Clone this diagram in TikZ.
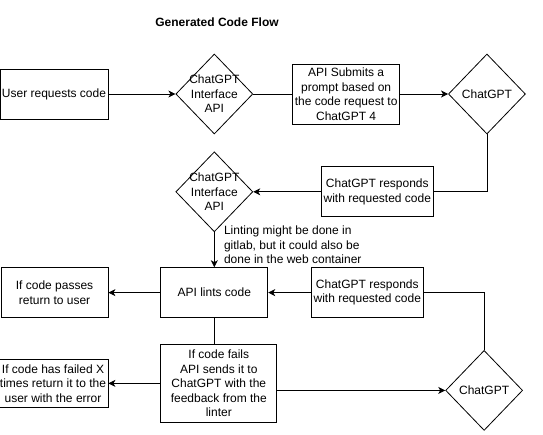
\documentclass[tikz,border=0pt]{standalone}
\usepackage{fontspec}
\setmainfont{Liberation Sans}
\usetikzlibrary{arrows, arrows.meta, shapes}
\usetikzlibrary{positioning}

\begin{document}
\begin{tikzpicture}[x=1pt,y=-1pt,->,>={Stealth[length=7pt,width=7pt,inset=2pt]},line width=0.8pt,font=\fontsize{12}{14.5}\selectfont,
	box node/.style={rectangle,draw,align=center,inner sep=2pt,minimum width=107pt,minimum height=50pt},
	decision node/.style={diamond,draw,align=center,inner sep=-10pt,minimum width=77pt,minimum height=80pt}]
	
	\useasboundingbox (0,0) rectangle (543,434);
	
	% Título
	\node (0) at (217,22) {\bfseries Generated Code Flow};
	
	% Definición de los nodos
	\node[box node] (1) at (54,94) {User requests code};
	\node[decision node] (2) [right=67pt of 1] {ChatGPT\\Interface\\API};
	\node[box node, minimum height=60pt] (3) [right=39pt of 2] {API Submits a\\prompt based on\\the code request to\\ChatGPT 4};
	\node[decision node] (4) [right=48pt of 3] {ChatGPT};
	\node[decision node] (6) [below=17pt of 2] {ChatGPT\\Interface\\API};
	\node[box node] (5) [right=68pt of 6] {ChatGPT responds\\with requested code};
	\node[box node] (7) [below=35pt of 6] {API lints code};
	\node[box node] (8) [left=52pt of 7] {If code passes\\return to user};
	\node[box node] (9) [right=43pt of 7] {ChatGPT responds\\with requested code};
	\node[box node, minimum width=116pt, minimum height=78pt] (10) [below right=26pt and 0pt of 7.south west] {If code fails\\API sends it to\\ChatGPT with the\\feedback from the\\linter};
	\node[box node, minimum height=48pt] (11) [left=52pt of 10] {If code has failed X\\times return it to the\\user with the error};
	\node[decision node] (12) [right=168pt of 10, yshift=-7pt] {ChatGPT};
	
	% Conexiones
	\path
	(1) edge (2)
	(2) edge[-] (3)
	(3) edge (4)
	(5) edge (6)
	(6) edge node[right=6pt, align=left, pos=0.37] {Linting might be done in\\gitlab, but it could also be\\done in the web container} (7)
	(9) edge (7)
	(7) edge (8)
	(7) edge[-] (7 |- 10.north)
	(10) edge (11)
	(10.east |- 12) edge (12);
	% Vueltas desde ChatGPT
	\draw[-] (4) |- (5);
	\draw[-] (12) |- (9);
\end{tikzpicture}
\end{document}
